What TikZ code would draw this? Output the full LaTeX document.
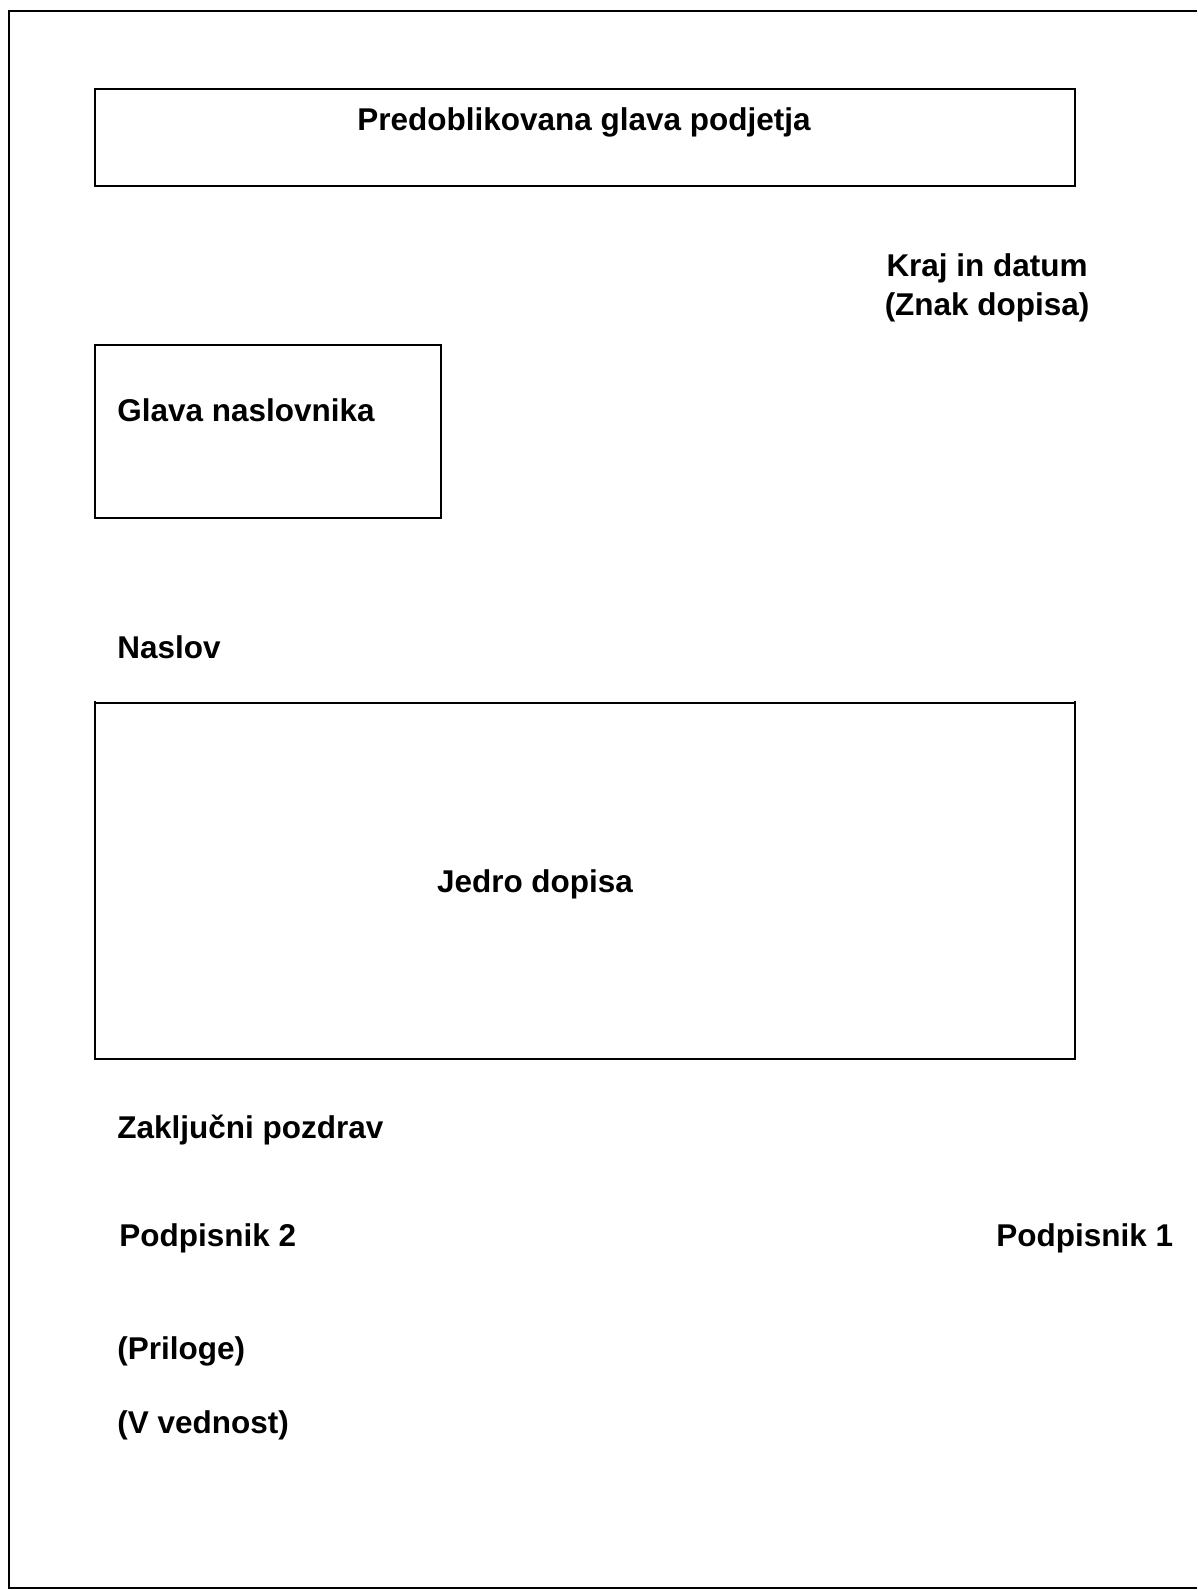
\documentclass[tikz,border=0pt]{standalone}
\usepackage{fontspec}
\setmainfont{Liberation Sans}
\usepackage{xcolor}
\usepackage{tikz}
\definecolor{figline}{RGB}{0,0,0}
\tikzset{
  sc/.style  ={draw=figline, line width=0.9pt},
  lab/.style ={font=\bfseries\fontsize{15.8}{19}\selectfont, inner sep=0pt},
}
\begin{document}
\begin{tikzpicture}[scale=1]
  \useasboundingbox (0,0) rectangle (21.113,28.044);
  % page frame, open at the right edge
  \draw[sc] (21.113,27.850) -- (0.159,27.850) -- (0.159,0.030) -- (21.113,0.030);
  % company header
  \draw[sc] (1.676,24.764) rectangle (18.961,26.475);
  \node[lab,anchor=base] (glava) at (10.301,25.734) {Predoblikovana glava podjetja};
  \node[lab,anchor=base] (kraj) at (17.410,23.159) {Kraj in datum};
  \node[lab,anchor=base] (znak) at (17.410,22.471) {(Znak dopisa)};
  % addressee
  \draw[sc] (1.676,18.908) rectangle (7.778,21.959);
  \node[lab,anchor=base west] (naslovnik) at (2.064,20.601) {Glava naslovnika};
  \node[lab,anchor=base west] (naslov) at (2.064,16.421) {Naslov};
  % body
  \draw[sc] (1.676,15.680) -- (1.676,9.366) -- (18.961,9.366) -- (18.961,15.680);
  \draw[sc] (1.676,15.645) -- (18.961,15.645);
  \node[lab,anchor=base] (jedro) at (9.436,12.311) {Jedro dopisa};
  % closing
  \node[lab,anchor=base west] (pozdrav) at (2.064,7.972) {Zaključni pozdrav};
  \node[lab,anchor=base west] (podpis2) at (2.099,6.050) {Podpisnik 2};
  \node[lab,anchor=base west] (podpis1) at (17.567,6.050) {Podpisnik 1};
  \node[lab,anchor=base west] (priloge) at (2.064,4.057) {(Priloge)};
  \node[lab,anchor=base west] (vednost) at (2.064,2.769) {(V vednost)};
\end{tikzpicture}
\end{document}
